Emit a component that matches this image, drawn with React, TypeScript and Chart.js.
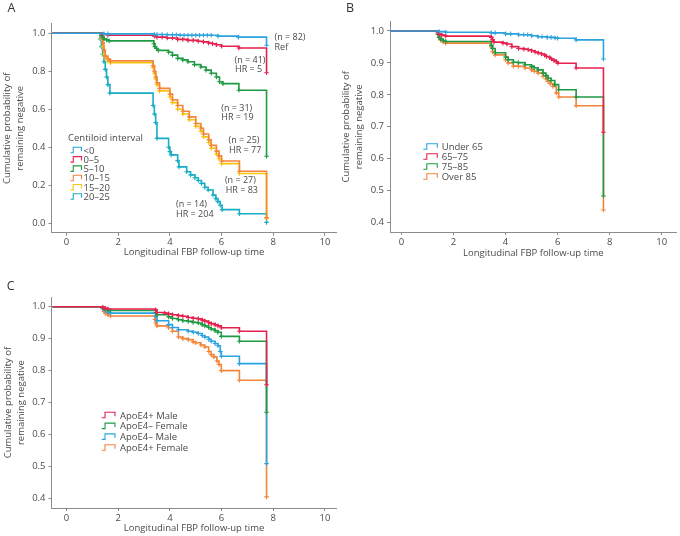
import React, { useEffect, useRef } from "react";
import { Chart, registerables } from "chart.js";

Chart.register(...registerables);

// ---------- DATA ----------
const X_TICKS = [0, 2, 4, 6, 8, 10];
const A_Y_TICKS = [0, 0.2, 0.4, 0.6, 0.8, 1.0];
const BC_Y_TICKS = [0.4, 0.5, 0.6, 0.7, 0.8, 0.9, 1.0];
const X_TITLE = "Longitudinal FBP follow-up time";
const Y_TITLE = ["Cumulative probability of", "remaining negative"];

// Panel A: centiloid interval  [time, survival]
const A_LT0 = [[-0.54, 1], [1.45, 0.997], [1.6, 0.997], [3.4, 0.994], [3.5, 0.994], [3.7, 0.994], [3.9, 0.992], [4.1, 0.992], [4.25, 0.992], [4.4, 0.99], [4.55, 0.99], [4.7, 0.99], [4.85, 0.99], [5.0, 0.99], [5.15, 0.99], [5.3, 0.99], [5.45, 0.99], [5.6, 0.99], [5.86, 0.985], [6.65, 0.98], [7.74, 0.937]];
const A_0_5 = [[-0.54, 1], [1.4, 0.995], [1.6, 0.99], [3.4, 0.985], [3.5, 0.98], [3.7, 0.98], [3.9, 0.975], [4.1, 0.975], [4.3, 0.968], [4.5, 0.968], [4.7, 0.963], [4.9, 0.963], [5.1, 0.958], [5.3, 0.955], [5.5, 0.949], [5.65, 0.945], [5.8, 0.94], [6.0, 0.932], [6.67, 0.923], [7.74, 0.792]];
const A_5_10 = [[-0.54, 1], [1.35, 0.99], [1.4, 0.98], [1.45, 0.97], [1.55, 0.965], [1.65, 0.96], [3.38, 0.945], [3.42, 0.93], [3.48, 0.92], [3.55, 0.91], [3.95, 0.9], [4.1, 0.885], [4.3, 0.868], [4.5, 0.86], [4.7, 0.85], [4.95, 0.835], [5.2, 0.823], [5.4, 0.806], [5.6, 0.79], [5.8, 0.77], [5.92, 0.745], [6.05, 0.735], [6.67, 0.7], [7.74, 0.353]];
const A_10_15 = [[-0.54, 1], [1.35, 0.98], [1.4, 0.95], [1.45, 0.91], [1.5, 0.88], [1.6, 0.865], [1.7, 0.855], [3.35, 0.83], [3.4, 0.8], [3.45, 0.77], [3.5, 0.74], [3.6, 0.71], [4.0, 0.68], [4.1, 0.65], [4.3, 0.62], [4.5, 0.59], [4.75, 0.56], [5.0, 0.525], [5.2, 0.5], [5.3, 0.47], [5.5, 0.44], [5.6, 0.41], [5.8, 0.38], [5.9, 0.355], [6.0, 0.328], [6.69, 0.274], [7.74, 0.03]];
const A_15_20 = [[-0.54, 1], [1.35, 0.97], [1.4, 0.93], [1.45, 0.89], [1.5, 0.87], [1.6, 0.855], [1.7, 0.845], [3.35, 0.82], [3.4, 0.79], [3.45, 0.76], [3.5, 0.73], [3.6, 0.697], [4.0, 0.665], [4.1, 0.635], [4.3, 0.6], [4.5, 0.575], [4.75, 0.545], [5.0, 0.51], [5.2, 0.485], [5.3, 0.455], [5.5, 0.425], [5.6, 0.395], [5.8, 0.365], [5.9, 0.34], [6.0, 0.314], [6.69, 0.262], [7.74, 0.025]];
const A_20_25 = [[-0.54, 1], [1.3, 0.97], [1.35, 0.93], [1.4, 0.89], [1.45, 0.85], [1.5, 0.81], [1.55, 0.77], [1.6, 0.73], [1.68, 0.685], [3.35, 0.62], [3.4, 0.575], [3.45, 0.53], [3.5, 0.447], [3.95, 0.4], [4.0, 0.377], [4.05, 0.36], [4.3, 0.33], [4.35, 0.297], [4.65, 0.271], [4.8, 0.255], [4.97, 0.24], [5.1, 0.225], [5.22, 0.21], [5.35, 0.19], [5.48, 0.175], [5.67, 0.149], [5.78, 0.13], [5.86, 0.114], [5.95, 0.095], [6.02, 0.072], [6.69, 0.05], [7.74, 0.005]];
const A_LABELS = ["<0", "0–5", "5–10", "10–15", "15–20", "20–25"];
const A_NOTES = [
  { text: "(n = 82)", x: 8.05, y: 0.978 }, { text: "Ref", x: 8.05, y: 0.925 },
  { text: "(n = 41)", x: 6.5, y: 0.859 }, { text: "HR = 5", x: 6.52, y: 0.808 },
  { text: "(n = 31)", x: 5.99, y: 0.607 }, { text: "HR = 19", x: 5.99, y: 0.557 },
  { text: "(n = 25)", x: 6.27, y: 0.437 }, { text: "HR = 77", x: 6.29, y: 0.386 },
  { text: "(n = 27)", x: 6.13, y: 0.223 }, { text: "HR = 83", x: 6.16, y: 0.171 },
  { text: "(n = 14)", x: 4.24, y: 0.098 }, { text: "HR = 204", x: 4.24, y: 0.048 },
];

// Panel B: age group
const B_U65 = [[-0.44, 1], [1.45, 0.998], [1.7, 0.996], [3.45, 0.994], [3.6, 0.994], [4.0, 0.991], [4.2, 0.991], [4.5, 0.988], [4.7, 0.988], [4.85, 0.988], [5.0, 0.985], [5.25, 0.982], [5.4, 0.982], [5.6, 0.98], [5.75, 0.98], [5.9, 0.978], [6.0, 0.977], [6.71, 0.972], [7.76, 0.912]];
const B_65_75 = [[-0.44, 1], [1.4, 0.996], [1.45, 0.99], [1.55, 0.987], [1.7, 0.984], [3.45, 0.98], [3.5, 0.972], [3.55, 0.965], [3.9, 0.962], [4.05, 0.959], [4.24, 0.951], [4.5, 0.945], [4.7, 0.943], [4.87, 0.941], [5.0, 0.938], [5.13, 0.934], [5.25, 0.931], [5.38, 0.928], [5.5, 0.924], [5.57, 0.92], [5.7, 0.916], [5.76, 0.912], [5.85, 0.908], [5.95, 0.904], [6.01, 0.899], [6.71, 0.884], [7.76, 0.683]];
const B_75_85 = [[-0.44, 1], [1.4, 0.99], [1.45, 0.98], [1.5, 0.975], [1.6, 0.97], [1.7, 0.967], [3.45, 0.955], [3.5, 0.945], [3.6, 0.932], [4.0, 0.918], [4.1, 0.91], [4.3, 0.902], [4.49, 0.901], [4.75, 0.894], [5.0, 0.889], [5.1, 0.885], [5.25, 0.878], [5.44, 0.868], [5.55, 0.86], [5.63, 0.852], [5.75, 0.845], [5.89, 0.832], [6.04, 0.816], [6.71, 0.793], [7.76, 0.483]];
const B_OVER85 = [[-0.44, 1], [1.4, 0.99], [1.45, 0.98], [1.5, 0.972], [1.6, 0.966], [1.7, 0.962], [3.45, 0.95], [3.5, 0.935], [3.6, 0.925], [4.0, 0.91], [4.1, 0.9], [4.3, 0.89], [4.49, 0.889], [4.75, 0.884], [5.0, 0.878], [5.1, 0.874], [5.25, 0.868], [5.44, 0.858], [5.55, 0.85], [5.63, 0.842], [5.72, 0.835], [5.82, 0.826], [5.95, 0.806], [6.04, 0.793], [6.71, 0.766], [7.76, 0.439]];
const B_LABELS = ["Under 65", "65–75", "75–85", "Over 85"];

// Panel C: ApoE4 x sex
const C_E4_MALE = [[-0.54, 1], [1.4, 0.998], [1.5, 0.995], [1.6, 0.993], [3.45, 0.99], [3.5, 0.982], [3.8, 0.98], [3.95, 0.978], [4.1, 0.975], [4.33, 0.972], [4.5, 0.97], [4.71, 0.966], [4.9, 0.964], [5.1, 0.962], [5.25, 0.958], [5.35, 0.955], [5.5, 0.95], [5.6, 0.947], [5.75, 0.943], [5.86, 0.94], [5.99, 0.934], [6.69, 0.923], [7.74, 0.756]];
const C_NE4_FEMALE = [[-0.54, 1], [1.4, 0.997], [1.5, 0.993], [1.6, 0.99], [1.7, 0.988], [3.45, 0.982], [3.5, 0.975], [3.95, 0.968], [4.1, 0.963], [4.33, 0.959], [4.5, 0.956], [4.71, 0.954], [4.9, 0.951], [5.1, 0.949], [5.25, 0.944], [5.35, 0.94], [5.5, 0.935], [5.6, 0.93], [5.75, 0.925], [5.86, 0.92], [5.99, 0.907], [6.69, 0.892], [7.74, 0.67]];
const C_NE4_MALE = [[-0.54, 1], [1.4, 0.995], [1.5, 0.988], [1.6, 0.983], [1.7, 0.98], [3.45, 0.97], [3.5, 0.956], [3.95, 0.944], [4.1, 0.935], [4.33, 0.928], [4.71, 0.923], [4.9, 0.92], [5.1, 0.916], [5.25, 0.91], [5.35, 0.905], [5.5, 0.898], [5.6, 0.892], [5.75, 0.885], [5.86, 0.878], [5.95, 0.86], [5.99, 0.845], [6.69, 0.822], [7.74, 0.509]];
const C_E4_FEMALE = [[-0.54, 1], [1.4, 0.993], [1.45, 0.985], [1.5, 0.979], [1.6, 0.974], [1.7, 0.971], [3.42, 0.96], [3.45, 0.949], [3.5, 0.94], [3.95, 0.934], [4.1, 0.923], [4.33, 0.905], [4.5, 0.9], [4.71, 0.897], [4.9, 0.89], [5.0, 0.887], [5.2, 0.88], [5.35, 0.874], [5.5, 0.86], [5.6, 0.85], [5.7, 0.843], [5.82, 0.83], [5.9, 0.819], [5.99, 0.8], [6.69, 0.77], [7.74, 0.405]];
const C_LABELS = ["ApoE4+ Male", "ApoE4– Female", "ApoE4– Male", "ApoE4+ Female"];

// ---------- STYLE ----------
const FONT = "'Open Sans', 'Noto Sans', sans-serif";
const TEXT = "#4a4a4a";
const AXIS = "#8c8c8c";
const BLUE = "#2ba3de";
const RED = "#e6214f";
const GREEN = "#1f9a44";
const ORANGE = "#f4843a";
const YELLOW = "#f5c40f";
const TEAL = "#17adc5";

type Series = { label: string; color: string; data: number[][] };
type Panel = {
  letter: string; letterX: number; letterY: number;
  left: number; top: number; w: number; h: number;
  areaLeft: number; areaTop: number; xH: number;
  xMin: number; xMax: number; yMin: number; yMax: number; yTicks: number[];
  xTitlePad: number; yTitlePad: number;
  series: Series[];
  legend: { title?: string; titleY?: number; x: number; y0: number; dy: number; iconW: number; textX: number };
  notes: { text: string; x: number; y: number }[];
};

const PANELS: Panel[] = [
  {
    letter: "A", letterX: 7.5, letterY: 12, left: 0, top: 0, w: 340, h: 262,
    areaLeft: 51.5, areaTop: 23.8, xH: 29.2,
    xMin: -0.58, xMax: 10.45, yMin: -0.05, yMax: 1.05, yTicks: A_Y_TICKS,
    xTitlePad: 2.9, yTitlePad: 1,
    series: [
      { label: A_LABELS[0], color: BLUE, data: A_LT0 },
      { label: A_LABELS[1], color: RED, data: A_0_5 },
      { label: A_LABELS[2], color: GREEN, data: A_5_10 },
      { label: A_LABELS[3], color: ORANGE, data: A_10_15 },
      { label: A_LABELS[4], color: YELLOW, data: A_15_20 },
      { label: A_LABELS[5], color: TEAL, data: A_20_25 },
    ],
    legend: { title: "Centiloid interval", titleY: 137.8, x: 70.5, y0: 150.3, dy: 9.3, iconW: 11, textX: 83.5 },
    notes: A_NOTES,
  },
  {
    letter: "B", letterX: 6, letterY: 12, left: 340, top: 0, w: 340, h: 262,
    areaLeft: 50, areaTop: 21.4, xH: 29.9,
    xMin: -0.44, xMax: 10.57, yMin: 0.37, yMax: 1.03, yTicks: BC_Y_TICKS,
    xTitlePad: 2.3, yTitlePad: 0,
    series: [
      { label: B_LABELS[0], color: BLUE, data: B_U65 },
      { label: B_LABELS[1], color: RED, data: B_65_75 },
      { label: B_LABELS[2], color: GREEN, data: B_75_85 },
      { label: B_LABELS[3], color: ORANGE, data: B_OVER85 },
    ],
    legend: { x: 83.3, y0: 146.7, dy: 10, iconW: 14, textX: 101.7 },
    notes: [],
  },
  {
    letter: "C", letterX: 6.7, letterY: 27.5, left: 0, top: 262, w: 340, h: 274,
    areaLeft: 51.5, areaTop: 35.1, xH: 27.9,
    xMin: -0.58, xMax: 10.45, yMin: 0.37, yMax: 1.03, yTicks: BC_Y_TICKS,
    xTitlePad: 1.4, yTitlePad: 1.5,
    series: [
      { label: C_LABELS[0], color: RED, data: C_E4_MALE },
      { label: C_LABELS[1], color: GREEN, data: C_NE4_FEMALE },
      { label: C_LABELS[2], color: BLUE, data: C_NE4_MALE },
      { label: C_LABELS[3], color: ORANGE, data: C_E4_FEMALE },
    ],
    legend: { x: 101.7, y0: 153.3, dy: 10.8, iconW: 13.3, textX: 120 },
    notes: [],
  },
];

function overlayPlugin(p: Panel) {
  return {
    id: "overlay" + p.letter,
    afterDraw(chart: any) {
      const ctx = chart.ctx as CanvasRenderingContext2D;
      ctx.save();
      // panel letter
      ctx.fillStyle = "#333";
      ctx.font = `12.5px ${FONT}`;
      ctx.textAlign = "left";
      ctx.textBaseline = "alphabetic";
      ctx.fillText(p.letter, p.letterX, p.letterY);
      // legend
      const lg = p.legend;
      ctx.font = `9.5px ${FONT}`;
      ctx.textBaseline = "middle";
      ctx.fillStyle = TEXT;
      if (lg.title) ctx.fillText(lg.title, lg.x - 2.5, lg.titleY as number);
      p.series.forEach((s, i) => {
        const y = lg.y0 + i * lg.dy;
        ctx.strokeStyle = s.color;
        ctx.lineWidth = 1.1;
        ctx.beginPath();
        const w = lg.iconW;
        ctx.moveTo(lg.x, y + 2.5);
        ctx.lineTo(lg.x + w * 0.25, y + 2.5);
        ctx.lineTo(lg.x + w * 0.25, y - 3);
        ctx.lineTo(lg.x + w, y - 3);
        ctx.lineTo(lg.x + w, y + 1);
        ctx.stroke();
        ctx.fillStyle = TEXT;
        ctx.fillText(s.label, lg.textX, y + 0.5);
      });
      // annotations
      const xs = chart.scales.x, ys = chart.scales.y;
      ctx.font = `9px ${FONT}`;
      ctx.fillStyle = TEXT;
      p.notes.forEach((n) => {
        ctx.fillText(n.text, xs.getPixelForValue(n.x), ys.getPixelForValue(n.y));
      });
      ctx.restore();
    },
  };
}

function makeConfig(p: Panel): any {
  const tickFont = { size: 9.5, family: FONT };
  const titleFont = { size: 9.5, family: FONT, lineHeight: 1.37 };
  return {
    type: "line",
    data: {
      datasets: p.series.map((s) => ({
        label: s.label,
        data: s.data.map(([x, y]) => ({ x, y })),
        borderColor: s.color,
        backgroundColor: s.color,
        borderWidth: 1.6,
        stepped: "before",
        fill: false,
        pointStyle: "cross",
        pointRadius: (c: any) => (c.dataIndex === 0 ? 0 : 2.3),
        pointBorderWidth: 1.1,
        pointBorderColor: s.color,
        pointHoverRadius: 0,
      })),
    },
    options: {
      animation: false,
      responsive: false,
      maintainAspectRatio: false,
      events: [],
      layout: { padding: { left: 0, right: 0, top: p.areaTop, bottom: 0 } },
      plugins: { legend: { display: false }, tooltip: { enabled: false } },
      scales: {
        x: {
          type: "linear",
          min: p.xMin,
          max: p.xMax,
          afterBuildTicks: (s: any) => { s.ticks = X_TICKS.map((v) => ({ value: v })); },
          afterFit: (s: any) => { s.height = p.xH; },
          grid: { display: true, drawOnChartArea: false, drawTicks: true, tickLength: 3, color: AXIS, lineWidth: 1 },
          border: { display: true, color: AXIS, width: 1 },
          ticks: { font: tickFont, color: TEXT, padding: 1, maxRotation: 0, autoSkip: false, callback: (v: any) => String(v) },
          title: { display: true, text: X_TITLE, font: titleFont, color: TEXT, padding: { top: 0, bottom: p.xTitlePad } },
        },
        y: {
          type: "linear",
          min: p.yMin,
          max: p.yMax,
          afterBuildTicks: (s: any) => { s.ticks = p.yTicks.map((v) => ({ value: v })); },
          afterFit: (s: any) => { s.width = p.areaLeft; },
          grid: { display: true, drawOnChartArea: false, drawTicks: true, tickLength: 3, color: AXIS, lineWidth: 1 },
          border: { display: true, color: AXIS, width: 1 },
          ticks: { font: tickFont, color: TEXT, padding: 3, autoSkip: false, callback: (v: any) => Number(v).toFixed(1) },
          title: { display: true, text: Y_TITLE, font: titleFont, color: TEXT, padding: { top: p.yTitlePad, bottom: 0 } },
        },
      },
    },
    plugins: [overlayPlugin(p)],
  };
}

function PanelChart({ p }: { p: Panel }) {
  const ref = useRef<HTMLCanvasElement | null>(null);
  useEffect(() => {
    if (!ref.current) return;
    const chart = new Chart(ref.current, makeConfig(p));
    return () => chart.destroy();
  }, [p]);
  return (
    <canvas
      ref={ref}
      width={p.w}
      height={p.h}
      style={{ position: "absolute", left: p.left, top: p.top, width: p.w, height: p.h }}
    />
  );
}

export default function App() {
  return (
    <div style={{ position: "absolute", left: 0, top: 0, width: 680, height: 536, background: "#fff", overflow: "hidden" }}>
      {PANELS.map((p) => (
        <PanelChart key={p.letter} p={p} />
      ))}
    </div>
  );
}
